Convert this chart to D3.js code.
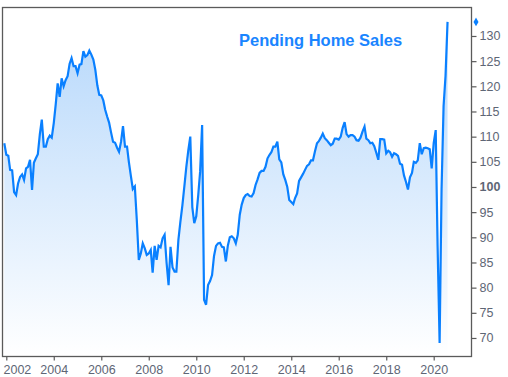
<!DOCTYPE html>
<html>
<head>
<meta charset="utf-8">
<script src="https://cdn.jsdelivr.net/npm/d3@7"></script>
<style>
  html, body { margin: 0; padding: 0; background: #ffffff; }
  svg { display: block; }
</style>
</head>
<body>
<script>
// ---- Data (monthly Pending Home Sales Index, starting Dec 2001) ----
const startMonth = "2001-12";
const values2001to2006 = [
  108.7,
  106.4,106.2,103.4,103.3,99.0,98.4,100.7,102.0,102.5,101.4,103.7,104.0,
  105.4,99.4,104.8,105.7,106.5,110.5,113.4,108.0,108.0,109.5,110.2,109.8,
  112.7,116.5,120.6,117.9,121.6,120.0,121.2,122.0,124.5,125.6,124.0,124.0,
  122.6,124.3,124.4,127.0,125.9,126.2,127.1,126.3,125.3,123.3,120.2,118.3,
  118.2,117.2,115.4,114.0,112.8,110.8,109.0,108.8,107.8,107.0,109.0,112.1
];
const values2007to2012 = [
  108.0,108.0,105.0,102.2,99.6,100.1,93.5,85.5,86.8,88.8,87.8,86.5,
  86.8,87.5,83.0,88.3,85.5,88.3,88.0,89.8,90.5,85.0,80.5,88.1,
  84.0,83.2,83.2,89.5,93.0,96.3,100.0,104.0,107.3,110.0,96.0,92.8,
  94.2,98.5,103.0,112.3,77.6,76.6,80.5,81.3,82.5,86.3,88.3,88.8,
  88.9,88.1,88.0,85.2,88.3,90.0,90.2,89.8,88.8,90.5,94.5,96.5,
  97.8,98.4,98.6,98.2,98.1,98.8,100.4,101.5,102.8,103.2,103.2,104.0
];
const values2013to2020 = [
  105.7,106.4,106.9,108.0,108.0,109.0,105.5,104.9,102.5,101.4,100.0,97.4,
  97.0,96.6,97.8,98.7,101.2,101.9,102.6,103.4,104.2,104.5,105.3,105.3,
  107.1,108.7,109.1,109.8,110.6,109.7,109.3,108.8,108.3,108.6,109.6,109.6,
  109.4,110.0,111.7,112.9,110.5,110.0,110.3,110.3,110.0,109.3,109.2,109.8,
  111.0,112.0,109.6,109.3,108.7,108.8,108.1,106.8,105.4,109.5,109.5,109.4,
  106.7,107.2,106.9,106.0,106.7,106.5,106.2,104.6,104.4,102.3,101.0,99.5,
  101.9,102.8,105.0,104.8,105.3,108.7,106.5,107.7,107.8,107.7,107.5,103.7,
  108.7,111.3,88.2,69.0,99.6,116.1,122.1,132.8
];
const yTicks = [70, 75, 80, 85, 90, 95, 100, 105, 110, 115, 120, 125, 130];
const xTickYears = [2002, 2004, 2006, 2008, 2010, 2012, 2014, 2016, 2018, 2020];
const title = "Pending Home Sales";

// ---- Build series ----
const allValues = values2001to2006.concat(values2007to2012, values2013to2020);
const parseMonth = d3.timeParse("%Y-%m");
const start = parseMonth(startMonth);
const data = allValues.map((v, i) => ({ date: d3.timeMonth.offset(start, i), value: v }));

// ---- Layout ----
const W = 508, H = 377;
const plot = { left: 3, right: 471, top: 8, bottom: 356 };

const svg = d3.select("body").append("svg").attr("width", W).attr("height", H);

const x = d3.scaleTime()
  .domain([new Date(2002, 0, 1), new Date(2020, 0, 1)])
  .range([6.3, 433.7]);
const y = d3.scaleLinear()
  .domain([66.42, 135.56])
  .range([plot.bottom, plot.top]);

// gradient
const defs = svg.append("defs");
const grad = defs.append("linearGradient")
  .attr("id", "fillGrad").attr("gradientUnits", "userSpaceOnUse")
  .attr("x1", 0).attr("x2", 0).attr("y1", plot.top).attr("y2", plot.bottom);
grad.append("stop").attr("offset", "0%").attr("stop-color", "#b3d6fb");
grad.append("stop").attr("offset", "100%").attr("stop-color", "#ffffff");

defs.append("clipPath").attr("id", "clip").append("rect")
  .attr("x", plot.left).attr("y", plot.top)
  .attr("width", plot.right - plot.left).attr("height", plot.bottom - plot.top);

const g = svg.append("g").attr("clip-path", "url(#clip)");

const area = d3.area()
  .x(d => x(d.date)).y0(plot.bottom).y1(d => y(d.value));
const line = d3.line()
  .x(d => x(d.date)).y(d => y(d.value));

g.append("path").datum(data).attr("d", area).attr("fill", "url(#fillGrad)");
g.append("path").datum(data).attr("d", line)
  .attr("fill", "none").attr("stroke", "#0a80ff").attr("stroke-width", 2.2)
  .attr("stroke-linejoin", "miter");

// frame
const axisColor = "#5a5a5a";
svg.append("rect")
  .attr("x", plot.left - 0.5).attr("y", plot.top - 0.5)
  .attr("width", plot.right - plot.left + 1).attr("height", plot.bottom - plot.top + 1)
  .attr("fill", "none").attr("stroke", axisColor).attr("stroke-width", 1.3);

// right axis
const yAxis = d3.axisRight(y).tickValues(yTicks).tickSize(5).tickPadding(3).tickFormat(d3.format("d"));
const ya = svg.append("g").attr("transform", `translate(${plot.right + 0.5},0)`).call(yAxis);
ya.select(".domain").remove();
ya.selectAll(".tick line").attr("stroke", axisColor).attr("stroke-width", 1.2);
ya.selectAll(".tick text")
  .attr("fill", "#5e6675")
  .style("font-family", "'Liberation Sans', Arial, sans-serif")
  .style("font-size", "12.5px")
  .style("font-weight", d => d === 100 ? "bold" : "normal");

// bottom axis
const xAxis = d3.axisBottom(x)
  .tickValues(xTickYears.map(yr => new Date(yr, 0, 1)))
  .tickSize(4).tickPadding(5).tickFormat(d3.timeFormat("%Y"));
const xa = svg.append("g").attr("transform", `translate(0,${plot.bottom + 0.5})`).call(xAxis);
xa.select(".domain").remove();
xa.selectAll(".tick line").attr("stroke", axisColor).attr("stroke-width", 1.2);
xa.selectAll(".tick text")
  .attr("fill", "#5e6675")
  .style("font-family", "'Liberation Sans', Arial, sans-serif")
  .style("font-size", "12.5px");
// first label is kept inside the chart, starting at the frame edge
xa.selectAll(".tick text").filter((d, i) => i === 0)
  .attr("text-anchor", "start")
  .attr("x", plot.left - x(new Date(xTickYears[0], 0, 1)));

// last value marker (diamond) on right axis
const last = data[data.length - 1];
svg.append("path")
  .attr("d", d3.symbol().type(d3.symbolDiamond).size(22)())
  .attr("transform", `translate(${plot.right + 5},${y(last.value)})`)
  .attr("fill", "#0a80ff");

// title
svg.append("text")
  .attr("x", 239).attr("y", 45.5)
  .attr("fill", "#1a85ff")
  .style("font-family", "'Liberation Sans', Arial, sans-serif")
  .style("font-weight", "bold")
  .style("font-size", "16.5px")
  .text(title);
</script>
</body>
</html>
